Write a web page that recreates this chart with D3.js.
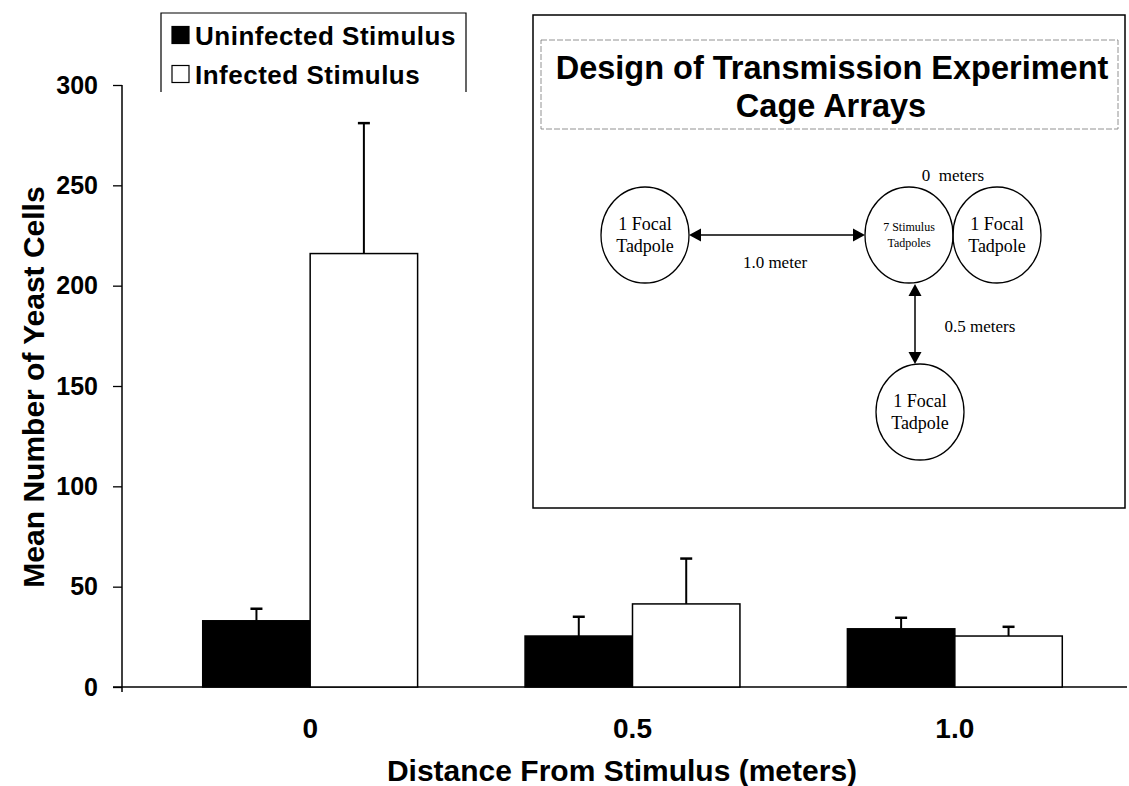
<!DOCTYPE html>
<html><head><meta charset="utf-8">
<script src="https://d3js.org/d3.v7.min.js"></script>
<style>body{margin:0;background:#fff}svg{display:block}</style>
</head><body>
<script>
const categories = ["0", "0.5", "1.0"];
const series = ["Uninfected Stimulus", "Infected Stimulus"];
const uninfected = [33, 25.4, 29];
const uninfectedErr = [6, 9.6, 5.5];
const infected = [216, 41.4, 25.4];
const infectedErr = [65, 22.6, 4.6];
const yTicks = [0, 50, 100, 150, 200, 250, 300];

const W = 1129, H = 786;
const svg = d3.select("body").append("svg").attr("width", W).attr("height", H);
const bold = "'Liberation Sans', Arial, sans-serif";
const serif = "'Liberation Serif', 'Times New Roman', serif";

const y = d3.scaleLinear().domain([0, 300]).range([687, 85]);
const x0 = d3.scaleBand().domain(categories).range([149, 1116]).paddingInner(1/3).paddingOuter(1/6);
const x1 = d3.scaleBand().domain(series).range([0, x0.bandwidth()]);
const fills = {"Uninfected Stimulus": "#000", "Infected Stimulus": "#fff"};

const rows = categories.map((c, i) => ({c, vals: [
  {s: series[0], v: uninfected[i], e: uninfectedErr[i]},
  {s: series[1], v: infected[i], e: infectedErr[i]}]}));

// y axis
const yAxis = d3.axisLeft(y).tickValues(yTicks).tickSize(9).tickPadding(15).tickFormat(d3.format("d"));
const gy = svg.append("g").attr("transform", "translate(122,0)").call(yAxis);
gy.select(".domain").attr("d", "M0,85V692").attr("stroke-width", 1.5);
gy.selectAll(".tick line").attr("stroke-width", 1.3);
gy.selectAll("text").attr("font-family", bold).attr("font-weight", "bold").attr("font-size", 25).attr("fill", "#000");

// x axis
const xAxis = d3.axisBottom(x0).tickSize(0).tickPadding(31);
const gx = svg.append("g").attr("transform", "translate(0,687)").call(xAxis);
gx.select(".domain").attr("d", "M113,0H1127").attr("stroke-width", 1.5);
gx.selectAll("text").attr("font-family", bold).attr("font-weight", "bold").attr("font-size", 28).attr("fill", "#000");

// bars
const groups = svg.append("g").selectAll("g").data(rows).join("g")
  .attr("transform", d => `translate(${x0(d.c)},0)`);
groups.selectAll("rect").data(d => d.vals).join("rect")
  .attr("x", d => x1(d.s)).attr("width", x1.bandwidth())
  .attr("y", d => y(d.v)).attr("height", d => y(0) - y(d.v))
  .attr("fill", d => fills[d.s]).attr("stroke", "#000").attr("stroke-width", 1.5);
groups.selectAll("line.err").data(d => d.vals).join("line").attr("class", "err")
  .attr("x1", d => x1(d.s) + x1.bandwidth()/2).attr("x2", d => x1(d.s) + x1.bandwidth()/2)
  .attr("y1", d => y(d.v)).attr("y2", d => y(d.v + d.e))
  .attr("stroke", "#000").attr("stroke-width", 2);
groups.selectAll("line.cap").data(d => d.vals).join("line").attr("class", "cap")
  .attr("x1", d => x1(d.s) + x1.bandwidth()/2 - 6).attr("x2", d => x1(d.s) + x1.bandwidth()/2 + 6)
  .attr("y1", d => y(d.v + d.e)).attr("y2", d => y(d.v + d.e))
  .attr("stroke", "#000").attr("stroke-width", 2.5);

// axis titles
svg.append("text").attr("x", 622).attr("y", 781).attr("text-anchor", "middle")
  .attr("font-family", bold).attr("font-weight", "bold").attr("font-size", 30).text("Distance From Stimulus (meters)");
svg.append("text").attr("transform", "translate(44,387) rotate(-90)").attr("text-anchor", "middle")
  .attr("font-family", bold).attr("font-weight", "bold").attr("font-size", 30).text("Mean Number of Yeast Cells");

// legend
const lg = svg.append("g");
lg.append("path").attr("d", "M161,92V13H466V92").attr("fill", "none").attr("stroke", "#000").attr("stroke-width", 1.2);
series.forEach((s, i) => {
  const cy = 35 + i * 39;
  lg.append("rect").attr("x", 172).attr("y", cy - 8.5).attr("width", 17).attr("height", 17)
    .attr("fill", fills[s]).attr("stroke", "#000").attr("stroke-width", 1.2);
  lg.append("text").attr("x", 195).attr("y", cy + 9.5).attr("font-family", bold).attr("font-weight", "bold")
    .attr("font-size", 26).attr("letter-spacing", 0.5).text(s);
});

// inset
const ins = svg.append("g");
ins.append("rect").attr("x", 533).attr("y", 15).attr("width", 592).attr("height", 493)
  .attr("fill", "#fff").attr("stroke", "#000").attr("stroke-width", 1.5);
ins.append("rect").attr("x", 541).attr("y", 40).attr("width", 577).attr("height", 89)
  .attr("fill", "none").attr("stroke", "#777").attr("stroke-width", 0.8).attr("stroke-dasharray", "6,2");
ins.append("text").attr("x", 832).attr("y", 79).attr("text-anchor", "middle").attr("font-family", bold)
  .attr("font-weight", "bold").attr("font-size", 32.5).text("Design of Transmission Experiment");
ins.append("text").attr("x", 831).attr("y", 117).attr("text-anchor", "middle").attr("font-family", bold)
  .attr("font-weight", "bold").attr("font-size", 32.5).text("Cage Arrays");

const ellipses = [
  {cx: 645, cy: 235, l1: "1 Focal", l2: "Tadpole", fs: 18},
  {cx: 909, cy: 235, l1: "7 Stimulus", l2: "Tadpoles", fs: 12},
  {cx: 997, cy: 235, l1: "1 Focal", l2: "Tadpole", fs: 18},
  {cx: 920, cy: 412, l1: "1 Focal", l2: "Tadpole", fs: 18}];
ellipses.forEach(e => {
  ins.append("ellipse").attr("cx", e.cx).attr("cy", e.cy).attr("rx", 44).attr("ry", 48)
    .attr("fill", "none").attr("stroke", "#000").attr("stroke-width", 1.3);
  const d = e.fs > 14 ? 11 : 8;
  ins.append("text").attr("x", e.cx).attr("y", e.cy - d + e.fs*0.35).attr("text-anchor", "middle")
    .attr("font-family", serif).attr("font-size", e.fs).text(e.l1);
  ins.append("text").attr("x", e.cx).attr("y", e.cy + d + e.fs*0.35).attr("text-anchor", "middle")
    .attr("font-family", serif).attr("font-size", e.fs).text(e.l2);
});
// arrows
function arrowHead(x, yy, dir) {
  const s = 12, h = 6.5;
  let p;
  if (dir === "left") p = [[x, yy], [x + s, yy - h], [x + s, yy + h]];
  if (dir === "right") p = [[x, yy], [x - s, yy - h], [x - s, yy + h]];
  if (dir === "up") p = [[x, yy], [x - h, yy + s], [x + h, yy + s]];
  if (dir === "down") p = [[x, yy], [x - h, yy - s], [x + h, yy - s]];
  ins.append("path").attr("d", "M" + p.map(q => q.join(",")).join("L") + "Z").attr("fill", "#000");
}
ins.append("line").attr("x1", 692).attr("x2", 861).attr("y1", 235).attr("y2", 235).attr("stroke", "#000").attr("stroke-width", 1.5);
arrowHead(689, 235, "left"); arrowHead(865, 235, "right");
ins.append("line").attr("x1", 915).attr("x2", 915).attr("y1", 287).attr("y2", 361).attr("stroke", "#000").attr("stroke-width", 1.5);
arrowHead(915, 284, "up"); arrowHead(915, 364, "down");
[{t: "1.0 meter", x: 775, y: 268}, {t: "0  meters", x: 953, y: 181}, {t: "0.5 meters", x: 980, y: 332}].forEach(l => {
  ins.append("text").attr("x", l.x).attr("y", l.y).attr("text-anchor", "middle").attr("font-family", serif)
    .attr("font-size", 17).attr("xml:space", "preserve").style("white-space", "pre").text(l.t);
});
</script>
</body></html>
